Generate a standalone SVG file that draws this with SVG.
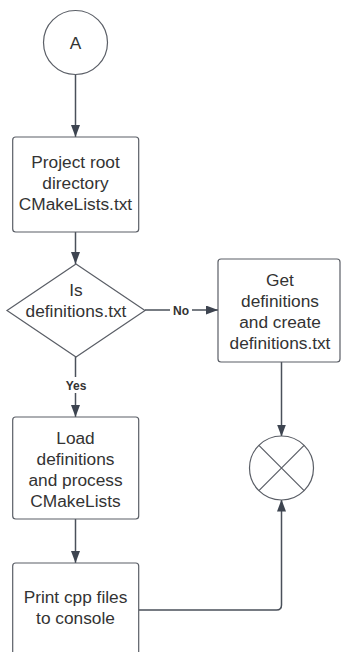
<svg xmlns="http://www.w3.org/2000/svg" width="341" height="652" viewBox="0 0 341 652">
  <style>
    .shape { fill: #ffffff; stroke: #5a5e66; stroke-width: 1.2; }
    .edge { fill: none; stroke: #4a505a; stroke-width: 1.5; }
    .label { font-family: "Liberation Sans", Arial, sans-serif; font-size: 17.3px; fill: #333333; text-anchor: middle; }
    .tag { font-family: "Liberation Sans", Arial, sans-serif; font-size: 12px; font-weight: bold; fill: #333333; text-anchor: middle; }
  </style>
  <defs>
    <marker id="arrow" viewBox="0 0 12 9" refX="12" refY="4.5" markerWidth="12" markerHeight="9" markerUnits="userSpaceOnUse" orient="auto">
      <path d="M0,0 L12,4.5 L0,9 z" fill="#3d4450"/>
    </marker>
  </defs>
  <rect width="341" height="652" fill="#ffffff"/>

  <g id="connectors">
    <path class="edge" d="M75.5,74 V137" marker-end="url(#arrow)"/>
    <path class="edge" d="M75.5,232 V264" marker-end="url(#arrow)"/>
    <path class="edge" d="M145,310 H218" marker-end="url(#arrow)"/>
    <rect x="170" y="302" width="22" height="15" fill="#ffffff"/>
    <text class="tag" x="181" y="314.5">No</text>
    <path class="edge" d="M75.5,357 V417" marker-end="url(#arrow)"/>
    <rect x="60" y="377" width="32" height="16" fill="#ffffff"/>
    <text class="tag" x="76" y="389.5">Yes</text>
    <path class="edge" d="M75.5,519 V563" marker-end="url(#arrow)"/>
    <path class="edge" d="M281.5,362 V436.5" marker-end="url(#arrow)"/>
    <path class="edge" d="M139,610 H276.5 Q281.5,610 281.5,605 V499.5" marker-end="url(#arrow)"/>
  </g>

  <g id="start">
    <circle class="shape" cx="75.5" cy="42.5" r="32"/>
    <text class="label" x="75.5" y="48.5">A</text>
  </g>

  <g id="root-cmakelists">
    <rect class="shape" x="12.7" y="137" width="126" height="95" rx="3"/>
    <text class="label" x="75.5" y="168">Project root</text>
    <text class="label" x="75.5" y="189">directory</text>
    <text class="label" x="75.5" y="210">CMakeLists.txt</text>
  </g>

  <g id="check-definitions">
    <path class="shape" d="M76,264 L145,310.5 L76,357 L7,310.5 Z"/>
    <text class="label" x="76" y="296">Is</text>
    <text class="label" x="76" y="317">definitions.txt</text>
  </g>

  <g id="create-definitions">
    <rect class="shape" x="218" y="259" width="122" height="103" rx="3"/>
    <text class="label" x="280" y="286">Get</text>
    <text class="label" x="280" y="307">definitions</text>
    <text class="label" x="280" y="328">and create</text>
    <text class="label" x="280" y="349">definitions.txt</text>
  </g>

  <g id="load-definitions">
    <rect class="shape" x="12.7" y="417" width="126" height="102" rx="3"/>
    <text class="label" x="75.5" y="444">Load</text>
    <text class="label" x="75.5" y="465">definitions</text>
    <text class="label" x="75.5" y="486">and process</text>
    <text class="label" x="75.5" y="507">CMakeLists</text>
  </g>

  <g id="print-cpp-files">
    <rect class="shape" x="12.7" y="563" width="126" height="110" rx="3"/>
    <text class="label" x="75.5" y="603">Print cpp files</text>
    <text class="label" x="75.5" y="624">to console</text>
  </g>

  <g id="join">
    <circle class="shape" cx="281.5" cy="468" r="32"/>
    <path class="shape" d="M258.9,445.4 L304.1,490.6 M304.1,445.4 L258.9,490.6"/>
  </g>
</svg>
